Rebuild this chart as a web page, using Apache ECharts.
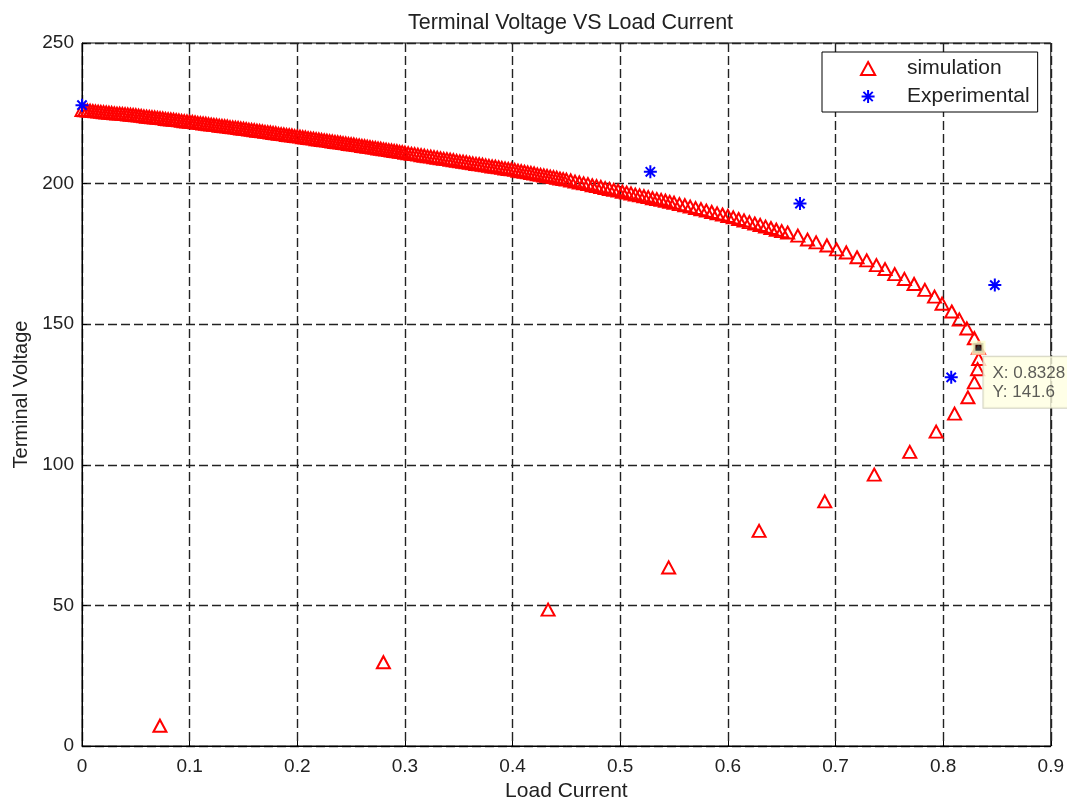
<!DOCTYPE html>
<html><head><meta charset="utf-8">
<script src="https://cdn.jsdelivr.net/npm/echarts@6/dist/echarts.min.js"></script>
<style>html,body{margin:0;padding:0;background:#fff}#c{width:1067px;height:807px}</style>
</head><body><div id="c"></div>
<script>
const chartTitle = 'Terminal Voltage VS Load Current';
const xName = 'Load Current';
const yName = 'Terminal Voltage';
const seriesNames = ['simulation', 'Experimental'];

// simulation: upper branch (dense) then lower branch
const simUpper = [
[0,226.2],[0.0025,226.1],[0.005,226.0],[0.0075,225.9],[0.01,225.8],[0.0125,225.7],[0.015,225.6],[0.0175,225.5],[0.02,225.4],[0.0225,225.3],
[0.025,225.2],[0.0275,225.1],[0.03,225.0],[0.0325,224.9],[0.035,224.9],[0.0375,224.8],[0.04,224.7],[0.0425,224.6],[0.045,224.5],[0.0475,224.4],
[0.05,224.3],[0.0525,224.2],[0.055,224.1],[0.0575,223.9],[0.06,223.8],[0.0625,223.7],[0.065,223.6],[0.0675,223.5],[0.07,223.4],[0.0725,223.3],
[0.075,223.2],[0.0775,223.0],[0.08,222.9],[0.0825,222.8],[0.085,222.7],[0.0875,222.6],[0.09,222.5],[0.0925,222.3],[0.095,222.2],[0.0975,222.1],
[0.1,222.0],[0.1025,221.9],[0.105,221.8],[0.1075,221.6],[0.11,221.5],[0.1125,221.4],[0.115,221.3],[0.1175,221.1],[0.12,221.0],[0.1225,220.9],
[0.125,220.8],[0.1275,220.6],[0.13,220.5],[0.1325,220.4],[0.135,220.3],[0.1375,220.1],[0.14,220.0],[0.1425,219.9],[0.145,219.8],[0.1475,219.6],
[0.15,219.5],[0.1525,219.4],[0.155,219.2],[0.1575,219.1],[0.16,219.0],[0.1625,218.8],[0.165,218.7],[0.1675,218.6],[0.17,218.4],[0.1725,218.3],
[0.175,218.2],[0.1775,218.0],[0.18,217.9],[0.1825,217.7],[0.185,217.6],[0.1875,217.5],[0.19,217.3],[0.1925,217.2],[0.195,217.1],[0.1975,216.9],
[0.2,216.8],[0.2025,216.7],[0.205,216.5],[0.2075,216.4],[0.21,216.2],[0.2125,216.1],[0.215,216.0],[0.2175,215.8],[0.22,215.7],[0.2225,215.5],
[0.225,215.4],[0.2275,215.3],[0.23,215.1],[0.2325,215.0],[0.235,214.8],[0.2375,214.7],[0.24,214.6],[0.2425,214.4],[0.245,214.3],[0.2475,214.1],
[0.25,214.0],[0.2525,213.9],[0.255,213.7],[0.2575,213.6],[0.26,213.4],[0.2625,213.3],[0.265,213.1],[0.2675,213.0],[0.27,212.8],[0.2725,212.7],
[0.275,212.5],[0.2775,212.4],[0.28,212.2],[0.2825,212.1],[0.285,211.9],[0.2875,211.8],[0.29,211.6],[0.2925,211.5],[0.295,211.3],[0.2975,211.2],
[0.3,211.0],[0.303,210.8],[0.306,210.6],[0.309,210.5],[0.312,210.3],[0.315,210.1],[0.318,209.9],[0.321,209.7],[0.324,209.6],[0.327,209.4],
[0.33,209.2],[0.333,209.0],[0.336,208.8],[0.339,208.7],[0.342,208.5],[0.345,208.3],[0.348,208.1],[0.351,207.9],[0.354,207.8],[0.357,207.6],
[0.36,207.4],[0.363,207.2],[0.366,207.0],[0.369,206.9],[0.372,206.7],[0.375,206.5],[0.378,206.3],[0.381,206.1],[0.384,206.0],[0.387,205.8],
[0.39,205.6],[0.393,205.4],[0.396,205.2],[0.399,205.1],[0.402,204.9],[0.405,204.6],[0.408,204.4],[0.411,204.2],[0.414,204.0],[0.417,203.8],
[0.42,203.6],[0.423,203.3],[0.426,203.1],[0.429,202.9],[0.432,202.7],[0.435,202.5],[0.438,202.3],[0.441,202.1],[0.444,201.8],[0.447,201.6],
[0.45,201.4],[0.454,201.1],[0.458,200.7],[0.462,200.4],[0.466,200.1],[0.47,199.8],[0.474,199.4],[0.478,199.1],[0.482,198.8],[0.486,198.4],
[0.49,198.1],[0.494,197.8],[0.498,197.5],[0.502,197.1],[0.506,196.8],[0.51,196.5],[0.514,196.1],[0.518,195.8],[0.522,195.5],[0.526,195.2],
[0.53,194.8],[0.534,194.5],[0.538,194.2],[0.542,193.9],[0.546,193.5],[0.55,193.2],[0.555,192.7],[0.56,192.3],[0.565,191.8],[0.57,191.3],
[0.575,190.9],[0.58,190.4],[0.585,189.9],[0.59,189.4],[0.595,189.0],[0.6,188.5],[0.605,188.0],[0.61,187.4],[0.615,186.9],[0.62,186.3],
[0.625,185.8],[0.63,185.3],[0.635,184.7],[0.64,184.2],[0.645,183.6],[0.65,183.1],[0.6555,182.6],[0.665,181.5],[0.674,180.1],[0.682,179.1],
[0.692,178.0],[0.701,176.6],[0.71,175.5],[0.72,173.8],[0.729,172.7],[0.738,171.0],[0.746,169.6],[0.755,167.8],[0.764,166.1],[0.773,164.3],
[0.783,162.2],[0.792,159.8],[0.799,157.3],[0.808,154.5],[0.815,151.7],[0.822,148.5],[0.829,145.0],[0.8328,141.6]
];
const simLower = [
[0.833,137.6],[0.832,134.0],[0.829,129.3],[0.823,124.0],[0.8106,118.2],[0.7935,111.8],[0.769,104.6],
[0.736,96.5],[0.69,87.0],[0.629,76.5],[0.545,63.5],[0.433,48.5],[0.28,29.8],[0.0724,7.2]
];
const experimental = [[0,227.9],[0.528,204.2],[0.667,192.9],[0.8075,131.1],[0.848,163.9]];
const dataTip = [[0.8328,141.6]];

const FONT = 'Liberation Sans, Arial, sans-serif';
const STAR = 'path://M0,-6L0,6M-6,0L6,0M-4.3,-4.3L4.3,4.3M-4.3,4.3L4.3,-4.3';
const TRI = 'path://M6,0L12,11L0,11Z';

const chart = echarts.init(document.getElementById('c'), null, {renderer: 'canvas'});
chart.setOption({
  animation: false,
  backgroundColor: '#fff',
  title: {
    text: chartTitle, left: 403, top: 7,
    textStyle: {fontFamily: FONT, fontSize: 21.5, fontWeight: 'normal', color: '#222'}
  },
  grid: {left: 82, right: 15, top: 43, bottom: 52, show: true, borderColor: '#000', borderWidth: 1, backgroundColor: 'transparent'},
  legend: {
    orient: 'vertical', left: 822, top: 52, selectedMode: false,
    backgroundColor: '#fff', borderColor: '#000', borderWidth: 1,
    padding: [6, 8, 5, 38], itemGap: 7, itemWidth: 68, itemHeight: 13,
    symbolKeepAspect: true,
    textStyle: {fontFamily: FONT, fontSize: 21, color: '#222', lineHeight: 20},
    data: [
      {name: seriesNames[0], icon: TRI, itemStyle: {color: 'rgba(0,0,0,0)', borderColor: '#ff0000', borderWidth: 2}},
      {name: seriesNames[1], icon: STAR, itemStyle: {color: 'rgba(0,0,0,0)', borderColor: '#0000ff', borderWidth: 2}}
    ]
  },
  xAxis: {
    type: 'value', min: 0, max: 0.9, interval: 0.1,
    name: xName, nameLocation: 'middle', nameGap: 35,
    nameTextStyle: {fontFamily: FONT, fontSize: 21, color: '#222'},
    axisLine: {show: true, onZero: false, lineStyle: {color: '#000', width: 1}},
    axisTick: {show: true, inside: true, length: 5, lineStyle: {color: '#000'}},
    axisLabel: {fontFamily: FONT, fontSize: 19, color: '#222', margin: 11},
    splitLine: {show: true, lineStyle: {color: '#222', width: 1.4, type: [9, 4]}}
  },
  yAxis: {
    type: 'value', min: 0, max: 250, interval: 50,
    name: yName, nameLocation: 'middle', nameGap: 50,
    nameTextStyle: {fontFamily: FONT, fontSize: 20, color: '#222'},
    axisLine: {show: true, onZero: false, lineStyle: {color: '#000', width: 1}},
    axisTick: {show: true, inside: true, length: 5, lineStyle: {color: '#000'}},
    axisLabel: {fontFamily: FONT, fontSize: 19, color: '#222', margin: 8},
    splitLine: {show: true, lineStyle: {color: '#222', width: 1.4, type: [9, 4]}}
  },
  series: [
    {
      name: seriesNames[0], type: 'scatter', symbol: 'triangle', symbolSize: [13, 12],
      data: simUpper.concat(simLower), z: 3,
      itemStyle: {color: 'rgba(0,0,0,0)', borderColor: '#ff0000', borderWidth: 2, opacity: 1}
    },
    {
      name: seriesNames[1], type: 'scatter', symbol: STAR, symbolSize: 13,
      data: experimental, z: 4,
      itemStyle: {color: 'rgba(0,0,0,0)', borderColor: '#0000ff', borderWidth: 2, opacity: 1}
    },
    {
      name: 'datatip', type: 'scatter', symbol: 'rect', symbolSize: 10, z: 5,
      data: dataTip,
      itemStyle: {color: '#000', borderColor: '#ffffcc', borderWidth: 4},
      label: {
        show: true, position: [12, 16], align: 'left', verticalAlign: 'top',
        formatter: p => 'X: ' + p.value[0] + '\nY: ' + p.value[1],
        fontFamily: FONT, fontSize: 17, lineHeight: 19, color: '#333',
        backgroundColor: '#ffffe1', borderColor: '#c8c8b4', borderWidth: 1,
        padding: [7, 30, 6, 9]
      }
    }
  ]
});
</script></body></html>
